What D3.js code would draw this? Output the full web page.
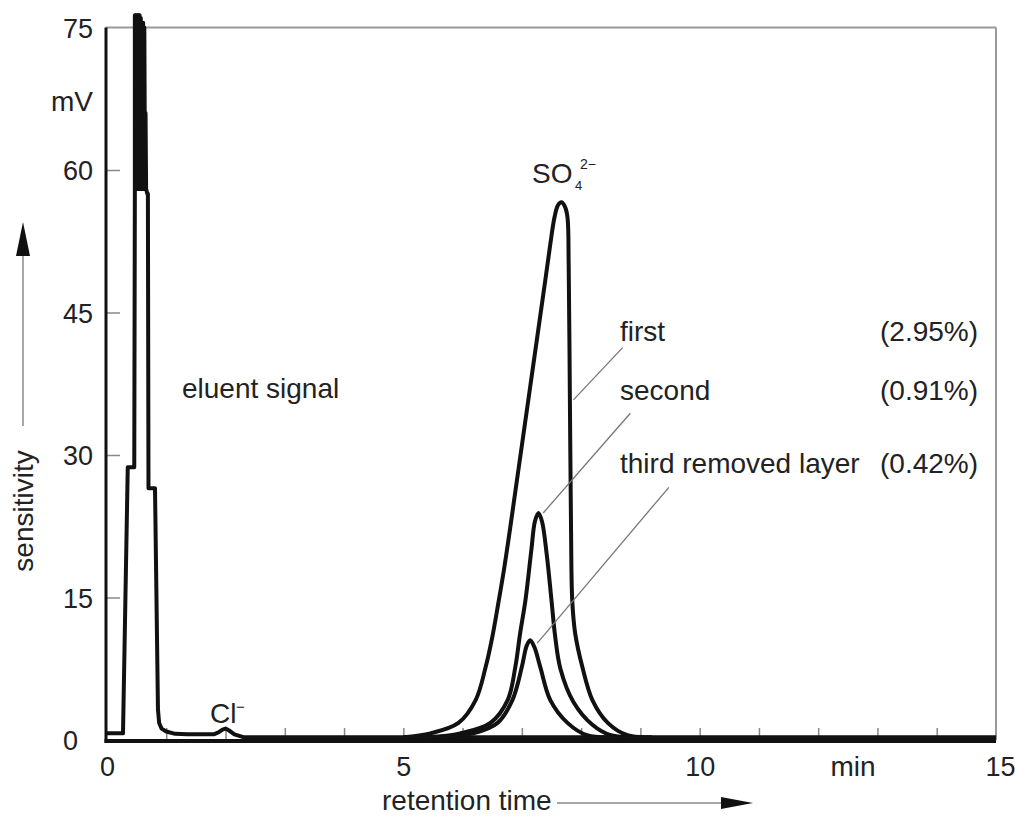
<!DOCTYPE html>
<html><head><meta charset="utf-8">
<script src="https://cdn.jsdelivr.net/npm/d3@7"></script>
<style>
html,body{margin:0;padding:0;background:#fff;}
svg text{font-family:"Liberation Sans",Arial,sans-serif;fill:#222;}
</style></head>
<body><svg id="c" width="1015" height="816"></svg>
<script>
// ---- data (retention time in min, signal in mV) ----
const eluentT = [0,0.27,0.35,0.46,0.47,0.47,0.48,0.49,0.50,0.51,0.52,0.53,0.54,0.55,0.56,0.57,0.58,0.59,0.60,0.61,0.62,0.63,0.64,0.65,0.66,0.68,0.69,0.70,0.81,0.86,0.88,0.92,1.0,1.15,1.35,1.8,1.88,1.95,2.0,2.06,2.15,2.3,2.6,15];
const eluentV = [0.7,0.7,28.7,28.7,57.5,76.3,58,76.3,58,76.3,58,76.3,58,76.3,58,76,58,75.5,58,75.5,58,75,60,66,58,57.5,57.5,26.5,26.5,3.2,1.8,1.2,0.9,0.65,0.6,0.6,0.8,1.1,1.2,1.0,0.6,0.3,0.3,0.3];

const firstT  = [5.0,5.46,5.93,6.22,6.39,6.5,6.6,6.7,6.8,6.9,7.0,7.1,7.2,7.3,7.4,7.48,7.55,7.61,7.67,7.73,7.77,7.79,7.81,7.83,7.85,7.9,8.02,8.19,8.45,8.78,9.2];
const firstV  = [0.3,0.7,1.8,4.2,7.7,10.8,14.3,18.0,22.2,26.6,31.0,35.4,39.8,44.2,48.6,52.2,55.0,56.3,56.6,56.1,55.0,50,36,22,14.7,11.2,7.7,4.2,1.8,0.5,0.3];
const secondT = [5.4,5.96,6.47,6.76,6.89,6.97,7.06,7.16,7.22,7.28,7.34,7.42,7.50,7.56,7.65,7.87,8.19,8.5,9.0];
const secondV = [0.3,0.7,1.8,4.2,7.7,11.2,14.7,20,23.0,23.9,23.0,19.5,14.7,11.0,7.5,4.0,1.6,0.5,0.3];
const thirdT  = [5.6,6.18,6.59,6.84,7.0,7.08,7.14,7.21,7.31,7.48,7.77,8.1,8.6];
const thirdV  = [0.3,0.7,1.8,4.2,7.7,9.9,10.5,9.8,7.7,4.2,1.8,0.5,0.3];

const layerNames = ["first","second","third removed layer"];
const layerPct   = ["(2.95%)","(0.91%)","(0.42%)"];
// leader lines: from curve point to label (t, mV)
const leaderFrom = [[7.87,35.8],[7.36,23.9],[7.26,10.2]];
const leaderTo   = [[8.70,41.3],[8.83,34.4],[9.48,26.6]];

const xMajor = [0,5,10,15];
const xMinor = [1,2,3,4,5,6,7,8,9,10,11,12,13,14];
const yTicks = [0,15,30,45,60,75];
const yInner = [15,30,45,60];

// ---- drawing ----
const svg = d3.select("#c");
const x = d3.scaleLinear().domain([0,15]).range([107,996]);
const y = d3.scaleLinear().domain([0,75]).range([740,27.5]);
const FS = 27, FL = 28;

// frame (top/right gray)
svg.append("line").attr("x1",106).attr("x2",996).attr("y1",y(75)).attr("y2",y(75)).attr("stroke","#999").attr("stroke-width",2);
svg.append("line").attr("x1",996).attr("x2",996).attr("y1",y(75)).attr("y2",y(0)).attr("stroke","#999").attr("stroke-width",2);

// minor x ticks
const gMin = svg.append("g").attr("transform",`translate(0,${y(0)})`)
  .call(d3.axisBottom(x).tickValues(xMinor).tickSize(-12).tickFormat(""));
gMin.select(".domain").remove();
gMin.selectAll("line").attr("stroke","#888").attr("stroke-width",1.5);

// inner y ticks
const gYi = svg.append("g").attr("transform",`translate(${x(0)},0)`)
  .call(d3.axisLeft(y).tickValues(yInner).tickSize(-13).tickFormat(""));
gYi.select(".domain").remove();
gYi.selectAll("line").attr("stroke","#888").attr("stroke-width",1.5);

// y labels
const gY = svg.append("g").attr("transform",`translate(${x(0)},0)`)
  .call(d3.axisLeft(y).tickValues(yTicks).tickSize(0).tickFormat(d3.format("d")));
gY.select(".domain").remove();
gY.selectAll("text").attr("x",-44).attr("text-anchor","start").attr("dy","0.36em")
  .attr("font-size",FS).attr("fill","#222").attr("font-family","Liberation Sans, Arial, sans-serif");

// x labels
const gX = svg.append("g").attr("transform",`translate(0,${y(0)})`)
  .call(d3.axisBottom(x).tickValues(xMajor).tickSize(0).tickFormat(d3.format("d")));
gX.select(".domain").remove();
gX.selectAll("text").attr("y",36).attr("dy","0").attr("font-size",FS).attr("fill","#222")
  .attr("font-family","Liberation Sans, Arial, sans-serif");
gX.selectAll("text").filter(d=>d===15).attr("dx",4);
svg.append("text").attr("x",853).attr("y",776).attr("text-anchor","middle").attr("font-size",FL).text("min");
svg.append("text").attr("x",51).attr("y",111).attr("font-size",FL).text("mV");

// curves
const lineLin = d3.line().x(d=>x(d[0])).y(d=>y(d[1])).curve(d3.curveLinear);
const lineSm  = d3.line().x(d=>x(d[0])).y(d=>y(d[1])).curve(d3.curveCatmullRom.alpha(0.5));
const zip = (a,b)=>a.map((t,i)=>[t,b[i]]);
const curveStyle = p=>p.attr("fill","none").attr("stroke","#111").attr("stroke-width",4).attr("stroke-linejoin","round");
svg.append("path").attr("d",lineLin(zip(eluentT,eluentV))).call(curveStyle);
[[firstT,firstV],[secondT,secondV],[thirdT,thirdV]].forEach(([t,v])=>{
  svg.append("path").attr("d",lineSm(zip(t,v))).call(curveStyle);
});

// axes (black)
svg.append("line").attr("x1",x(0)-1).attr("x2",x(0)-1).attr("y1",y(75)).attr("y2",y(0)+3).attr("stroke","#111").attr("stroke-width",3);
svg.append("line").attr("x1",x(0)-2.5).attr("x2",996).attr("y1",y(0)+1).attr("y2",y(0)+1).attr("stroke","#111").attr("stroke-width",4);

// leader lines + labels
const labelBase = [341,400,473];
leaderFrom.forEach((f,i)=>{
  svg.append("line").attr("x1",x(f[0])).attr("y1",y(f[1])).attr("x2",x(leaderTo[i][0])).attr("y2",y(leaderTo[i][1]))
    .attr("stroke","#777").attr("stroke-width",1.3);
  svg.append("text").attr("x",620).attr("y",labelBase[i]).attr("font-size",FL).text(layerNames[i]);
  svg.append("text").attr("x",880).attr("y",labelBase[i]).attr("font-size",FL).text(layerPct[i]);
});

// SO4 2- label
svg.append("text").attr("x",532).attr("y",183).attr("font-size",FL).text("SO");
svg.append("text").attr("x",575).attr("y",190).attr("font-size",13).text("4");
svg.append("text").attr("x",580).attr("y",169).attr("font-size",14).text("2\u2212");
// Cl- label
svg.append("text").attr("x",210).attr("y",723).attr("font-size",FL).text("Cl");
svg.append("text").attr("x",236).attr("y",712).attr("font-size",15).text("\u2212");

svg.append("text").attr("x",182).attr("y",398).attr("font-size",FL).text("eluent signal");

// axis titles with arrows
svg.append("text").attr("x",382).attr("y",810).attr("font-size",FL).text("retention time");
svg.append("line").attr("x1",557).attr("x2",724).attr("y1",803).attr("y2",803).attr("stroke","#888").attr("stroke-width",1.5);
svg.append("path").attr("d","M721,797 L753,803 L721,809 Z").attr("fill","#111");

svg.append("text").attr("transform","translate(33,511) rotate(-90)").attr("text-anchor","middle").attr("font-size",FL).text("sensitivity");
svg.append("line").attr("x1",23).attr("x2",23).attr("y1",426).attr("y2",252).attr("stroke","#888").attr("stroke-width",1.5);
svg.append("path").attr("d","M23,222 L30,256 L16,256 Z").attr("fill","#111");
</script></body></html>
